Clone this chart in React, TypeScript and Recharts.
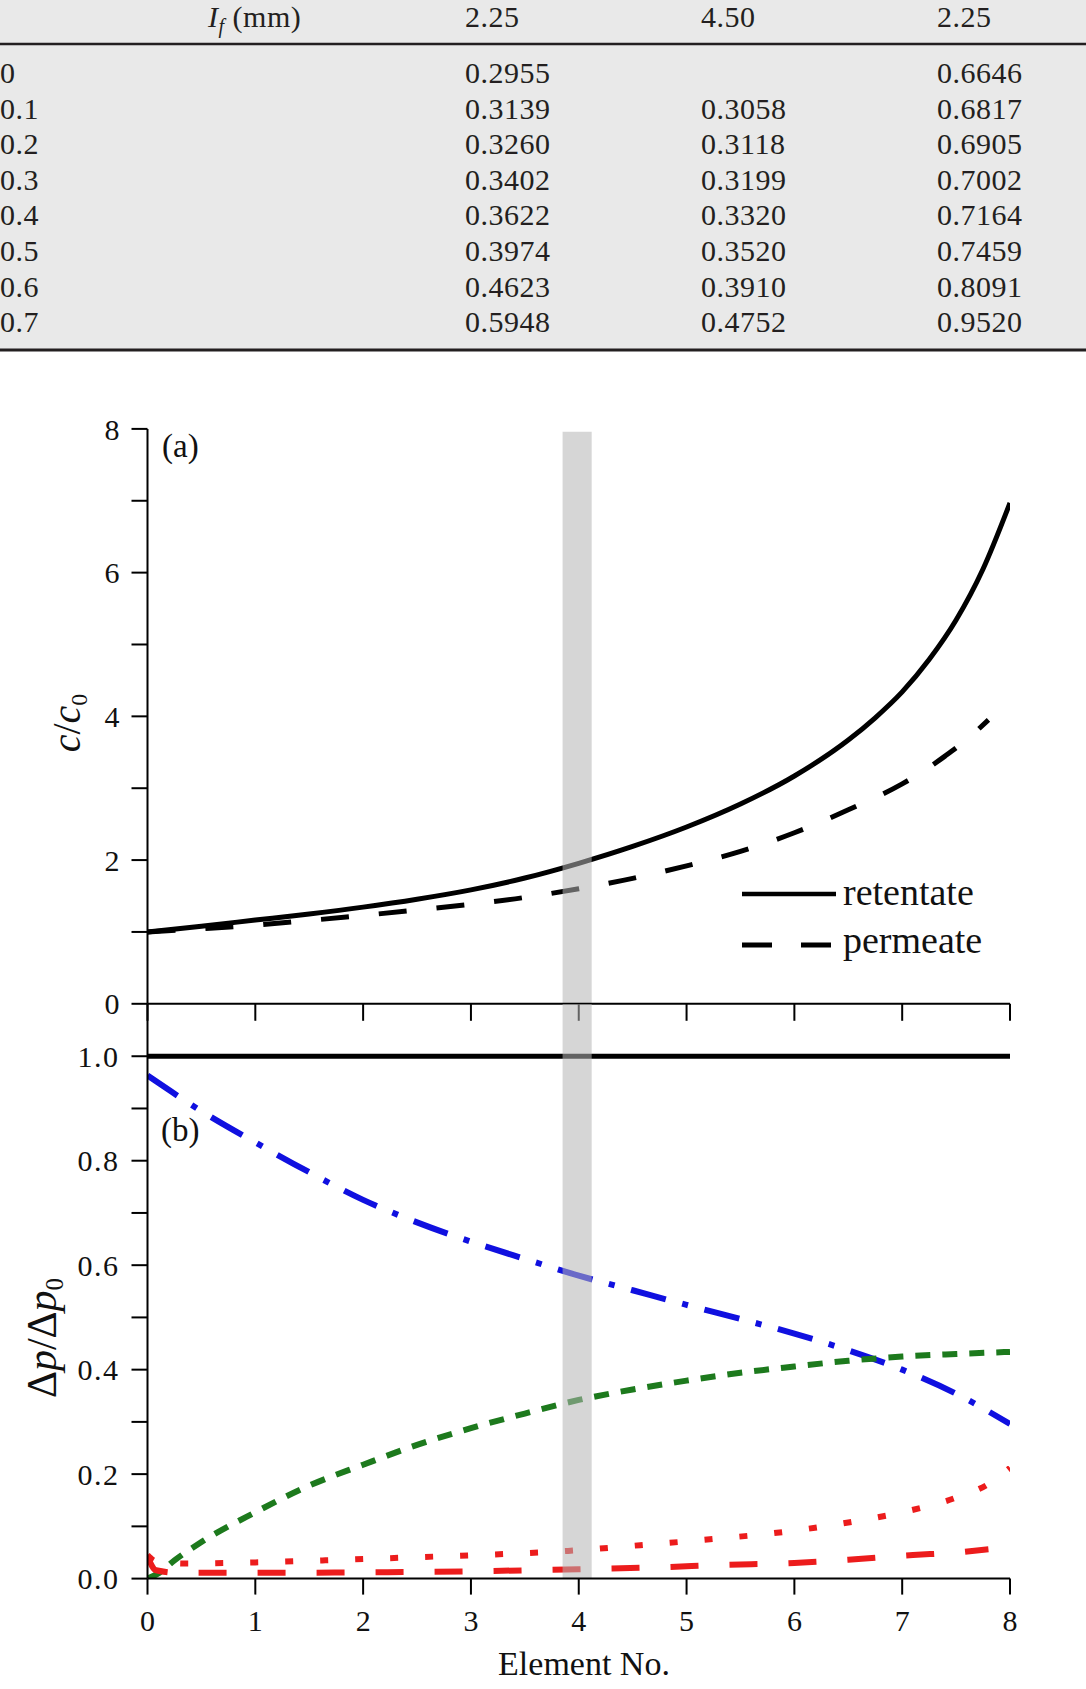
import React from 'react';
import { LineChart, Line, XAxis, YAxis, ReferenceArea } from 'recharts';

const PAGE_W = 1086;
const PAGE_H = 1689;
const SERIF = '"Liberation Serif", "Times New Roman", serif';
const INK = '#111';

// ---- table: regression coefficients by row ----
const tableHeaders = ['2.25', '4.50', '2.25'];
const rowLabels = ['0', '0.1', '0.2', '0.3', '0.4', '0.5', '0.6', '0.7'];
const colFirst = ['0.2955', '0.3139', '0.3260', '0.3402', '0.3622', '0.3974', '0.4623', '0.5948'];
const colSecond = ['', '0.3058', '0.3118', '0.3199', '0.3320', '0.3520', '0.3910', '0.4752'];
const colThird = ['0.6646', '0.6817', '0.6905', '0.7002', '0.7164', '0.7459', '0.8091', '0.9520'];

// ---- panel (a): concentration along the train ----
const elementTicks = [0, 1, 2, 3, 4, 5, 6, 7, 8];
const concTicks = [0, 1, 2, 3, 4, 5, 6, 7, 8];
const retentateX = [0, 0.5, 1, 1.5, 2, 2.5, 3, 3.5, 4, 4.5, 5, 5.5, 6, 6.5, 6.75, 7, 7.25, 7.5, 7.75, 8];
const retentateY = [1.0, 1.08, 1.165, 1.25, 1.345, 1.455, 1.585, 1.75, 1.955, 2.19, 2.46, 2.78, 3.17, 3.67, 3.98, 4.34, 4.79, 5.34, 6.05, 6.97];
const permeateX = [0, 0.5, 1, 1.5, 2, 2.5, 3, 3.5, 4, 4.5, 5, 5.5, 6, 6.5, 7, 7.2, 7.4, 7.6, 7.8];
const permeateY = [1.0, 1.045, 1.095, 1.16, 1.23, 1.305, 1.385, 1.48, 1.6, 1.745, 1.92, 2.12, 2.38, 2.7, 3.06, 3.24, 3.45, 3.68, 3.95];

// ---- panel (b): pressure-drop fractions ----
const dpTicks = [0, 0.1, 0.2, 0.3, 0.4, 0.5, 0.6, 0.7, 0.8, 0.9, 1.0];
const unityX = [0, 8];
const unityY = [1, 1];
const blueX = [0, 0.5, 1, 1.5, 2, 2.5, 3, 3.5, 4, 4.5, 5, 5.5, 6, 6.5, 7, 7.5, 8];
const blueY = [0.963, 0.895, 0.835, 0.778, 0.725, 0.682, 0.645, 0.612, 0.58, 0.552, 0.524, 0.497, 0.469, 0.437, 0.4, 0.354, 0.296];
const greenX = [0, 0.1, 0.25, 0.5, 1, 1.5, 2, 2.5, 3, 3.5, 4, 4.5, 5, 5.5, 6, 6.5, 7, 7.5, 8];
const greenY = [0.0, 0.01, 0.035, 0.07, 0.127, 0.178, 0.218, 0.256, 0.288, 0.316, 0.342, 0.362, 0.379, 0.394, 0.406, 0.417, 0.425, 0.43, 0.434];
const redDotX = [0, 0.08, 0.35, 1, 1.65, 2.5, 3.3, 3.9, 4.57, 5.26, 5.93, 6.6, 7, 7.5, 7.8, 8];
const redDotY = [0.045, 0.033, 0.029, 0.031, 0.035, 0.041, 0.047, 0.053, 0.064, 0.076, 0.09, 0.111, 0.127, 0.155, 0.181, 0.212];
const redDashX = [0, 0.08, 0.3, 1, 2, 3, 4, 4.8, 5.3, 6, 6.5, 7.1, 7.5, 7.8];
const redDashY = [0.042, 0.016, 0.011, 0.011, 0.012, 0.014, 0.018, 0.022, 0.026, 0.03, 0.036, 0.045, 0.05, 0.056];

// highlighted element column
const bandFrom = 3.85;
const bandTo = 4.12;

const pts = (xs: number[], ys: number[]) => xs.map((x, i) => ({ x, y: ys[i] }));

const axisStroke = { stroke: '#000', strokeWidth: 2 };
const tickFont = { fill: INK, fontSize: 30, fontFamily: SERIF };

function DataTable() {
  const rowBase = (i: number) => 83 + i * 35.6;
  const colX = [465, 701, 937];
  const cols = [colFirst, colSecond, colThird];
  const txt = { fontFamily: SERIF, fontSize: 30, letterSpacing: 0.5, fill: '#231f20' } as const;
  return (
    <svg width={PAGE_W} height={356} style={{ position: 'absolute', left: 0, top: 0 }}>
      <rect x={0} y={0} width={PAGE_W} height={349} fill="#e9e9e9" />
      <line x1={0} x2={PAGE_W} y1={44} y2={44} stroke="#231f20" strokeWidth={2.5} />
      <line x1={0} x2={PAGE_W} y1={350} y2={350} stroke="#231f20" strokeWidth={3} />
      <text x={208} y={27} {...txt}>
        <tspan fontStyle="italic">I</tspan>
        <tspan fontStyle="italic" fontSize={20} dy={6}>f</tspan>
        <tspan dy={-6}> (mm)</tspan>
      </text>
      {tableHeaders.map((h, j) => (
        <text key={'h' + j} x={colX[j]} y={27} {...txt}>{h}</text>
      ))}
      {rowLabels.map((r, i) => (
        <g key={'r' + i}>
          <text x={0} y={rowBase(i)} {...txt}>{r}</text>
          {cols.map((c, j) => (
            <text key={j} x={colX[j]} y={rowBase(i)} {...txt}>{c[i]}</text>
          ))}
        </g>
      ))}
    </svg>
  );
}

function PanelA() {
  return (
    <div style={{ position: 'absolute', left: 0, top: 0 }}>
      <LineChart
        width={PAGE_W}
        height={1040}
        margin={{ top: 428.9, right: 76, left: 67.5, bottom: 6.2 }}
        style={{ fontFamily: SERIF }}
      >
        <XAxis
          type="number"
          dataKey="x"
          domain={[0, 8]}
          ticks={elementTicks}
          interval={0}
          allowDataOverflow
          height={30}
          tickSize={17}
          tickFormatter={() => ''}
          axisLine={axisStroke}
          tickLine={axisStroke}
        />
        <YAxis
          type="number"
          dataKey="y"
          domain={[0, 8]}
          ticks={concTicks}
          interval={0}
          allowDataOverflow
          width={80}
          tickSize={16}
          tickMargin={12}
          tickFormatter={(v: number) => (v % 2 === 0 ? String(v) : '')}
          tick={tickFont}
          axisLine={axisStroke}
          tickLine={axisStroke}
        />
        <Line data={pts(retentateX, retentateY)} dataKey="y" type="monotone" stroke="#000" strokeWidth={5} dot={false} activeDot={false} isAnimationActive={false} />
        <Line data={pts(permeateX, permeateY)} dataKey="y" type="monotone" stroke="#000" strokeWidth={5} strokeDasharray="28 30" dot={false} activeDot={false} isAnimationActive={false} />
        <ReferenceArea x1={bandFrom} x2={bandTo} y1={0} y2={7.96} fill="#b5b5b5" fillOpacity={0.55} stroke="none" zIndex={450} />
      </LineChart>
    </div>
  );
}

function PanelB() {
  return (
    <div style={{ position: 'absolute', left: 0, top: 0 }}>
      <LineChart
        width={PAGE_W}
        height={PAGE_H}
        margin={{ top: 1004, right: 76, left: 67.5, bottom: 30.4 }}
        style={{ fontFamily: SERIF }}
      >
        <XAxis
          type="number"
          dataKey="x"
          domain={[0, 8]}
          ticks={elementTicks}
          interval={0}
          allowDataOverflow
          height={80}
          tickSize={16}
          tickMargin={15}
          tick={tickFont}
          axisLine={axisStroke}
          tickLine={axisStroke}
        />
        <YAxis
          type="number"
          dataKey="y"
          domain={[0, 1.1]}
          ticks={dpTicks}
          interval={0}
          allowDataOverflow
          width={80}
          tickSize={16}
          tickMargin={12}
          tickFormatter={(v: number) => (Math.round(v * 10) % 2 === 0 ? v.toFixed(1) : '')}
          tick={{ ...tickFont, letterSpacing: 1.5 }}
          axisLine={axisStroke}
          tickLine={axisStroke}
        />
        <Line data={pts(unityX, unityY)} dataKey="y" type="linear" stroke="#000" strokeWidth={5} dot={false} activeDot={false} isAnimationActive={false} />
        <Line data={pts(blueX, blueY)} dataKey="y" type="monotone" stroke="#1010e0" strokeWidth={6} strokeDasharray="36 17 6 17" dot={false} activeDot={false} isAnimationActive={false} />
        <Line data={pts(greenX, greenY)} dataKey="y" type="monotone" stroke="#1d7a1d" strokeWidth={6} strokeDasharray="15 12" dot={false} activeDot={false} isAnimationActive={false} />
        <Line data={pts(redDotX, redDotY)} dataKey="y" type="monotone" stroke="#ec1c1c" strokeWidth={6} strokeDasharray="8 27" dot={false} activeDot={false} isAnimationActive={false} />
        <Line data={pts(redDashX, redDashY)} dataKey="y" type="monotone" stroke="#ec1c1c" strokeWidth={6} strokeDasharray="28 31" dot={false} activeDot={false} isAnimationActive={false} />
        <ReferenceArea x1={bandFrom} x2={bandTo} y1={0} y2={1.1} fill="#b5b5b5" fillOpacity={0.55} stroke="none" zIndex={450} />
      </LineChart>
    </div>
  );
}

function Annotations() {
  const t = { fontFamily: SERIF, fill: INK } as const;
  return (
    <svg width={PAGE_W} height={PAGE_H} style={{ position: 'absolute', left: 0, top: 0, pointerEvents: 'none' }}>
      <text x={162} y={457} fontSize={33} {...t}>(a)</text>
      <text x={161} y={1141} fontSize={33} {...t}>(b)</text>
      <text transform="translate(80,723) rotate(-90)" textAnchor="middle" fontSize={40} {...t}>
        <tspan fontStyle="italic">c</tspan>
        <tspan>/</tspan>
        <tspan fontStyle="italic">c</tspan>
        <tspan fontSize={24} dy={7}>0</tspan>
      </text>
      <text transform="translate(56,1338) rotate(-90)" textAnchor="middle" fontSize={42} {...t}>
        <tspan>Δ</tspan>
        <tspan fontStyle="italic">p</tspan>
        <tspan>/Δ</tspan>
        <tspan fontStyle="italic">p</tspan>
        <tspan fontSize={25} dy={7}>0</tspan>
      </text>
      <text x={584} y={1675} textAnchor="middle" fontSize={34} {...t}>Element No.</text>
      <line x1={742} x2={836} y1={894} y2={894} stroke="#000" strokeWidth={4.5} />
      <text x={843} y={905} fontSize={38} {...t}>retentate</text>
      <line x1={742} x2={831} y1={945} y2={945} stroke="#000" strokeWidth={5} strokeDasharray="30 29" />
      <text x={843} y={953} fontSize={38} {...t}>permeate</text>
    </svg>
  );
}

export default function App() {
  return (
    <div style={{ position: 'absolute', left: 0, top: 0, width: PAGE_W, height: PAGE_H, background: '#fff', overflow: 'hidden' }}>
      <DataTable />
      <PanelA />
      <PanelB />
      <Annotations />
    </div>
  );
}
